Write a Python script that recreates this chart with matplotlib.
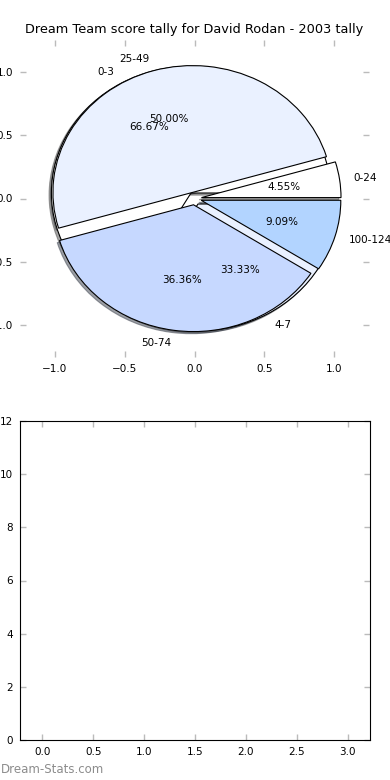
import matplotlib
matplotlib.use("Agg")
import matplotlib.pyplot as plt

# outer pie: points bands
score_labels = ["0-24", "25-49", "50-74", "100-124"]
score_counts = [1, 11, 8, 2]

# second pie: goals bands
goal_labels = ["0-3", "4-7"]
goal_counts = [2, 1]

wedge_colors = ["#ffffff", "#eaf1ff", "#c6d8ff", "#b2d4ff"]

pie_ticks = [-1.0, -0.5, 0.0, 0.5, 1.0]
bar_xticks = [0.0, 0.5, 1.0, 1.5, 2.0, 2.5, 3.0]
bar_yticks = [0, 2, 4, 6, 8, 10, 12]

title = "Dream Team score tally for David Rodan - 2003 tally"
tick_grey = "#bbbbbb"
shadow_opts = {"ox": -0.012, "oy": -0.012, "shade": 0.7}

fig = plt.figure(figsize=(3.9, 7.8), dpi=100)
ax1 = fig.add_axes([20 / 390, 1 - 357 / 780, 349 / 390, 317 / 780])
ax2 = fig.add_axes([20 / 390, 1 - 740 / 780, 350 / 390, 319 / 780])

# goals pie first so it sits behind the score pie
ax1.pie(goal_counts, labels=goal_labels, colors=wedge_colors[:len(goal_counts)],
        explode=[0.05] * len(goal_counts), shadow=shadow_opts,
        autopct="%1.2f%%", textprops={"fontsize": 7.5},
        wedgeprops={"edgecolor": "black", "linewidth": 0.8})
ax1.pie(score_counts, labels=score_labels, colors=wedge_colors,
        explode=[0.05] * len(score_counts), shadow=shadow_opts,
        autopct="%1.2f%%", textprops={"fontsize": 7.5},
        wedgeprops={"edgecolor": "black", "linewidth": 0.8})
ax1.set_aspect("auto")
ax1.set_frame_on(False)
ax1.set_xlim(-1.25, 1.25)
ax1.set_ylim(-1.25, 1.25)
ax1.set_xticks(pie_ticks)
ax1.set_yticks(pie_ticks)
ax1.set_title(title, fontsize=9.3, pad=5)

ax2.set_xlim(-0.22, 3.22)
ax2.set_ylim(0, 12)
ax2.set_xticks(bar_xticks)
ax2.set_yticks(bar_yticks)

for ax in (ax1, ax2):
    ax.tick_params(direction="in", length=4, width=1, color=tick_grey,
                   labelsize=7.5, top=True, right=True, pad=5)

fig.text(0.002, 0.005, "Dream-Stats.com", fontsize=8.5, color="#8c8c8c",
         ha="left", va="bottom")

fig.savefig("out.png", dpi=100)
